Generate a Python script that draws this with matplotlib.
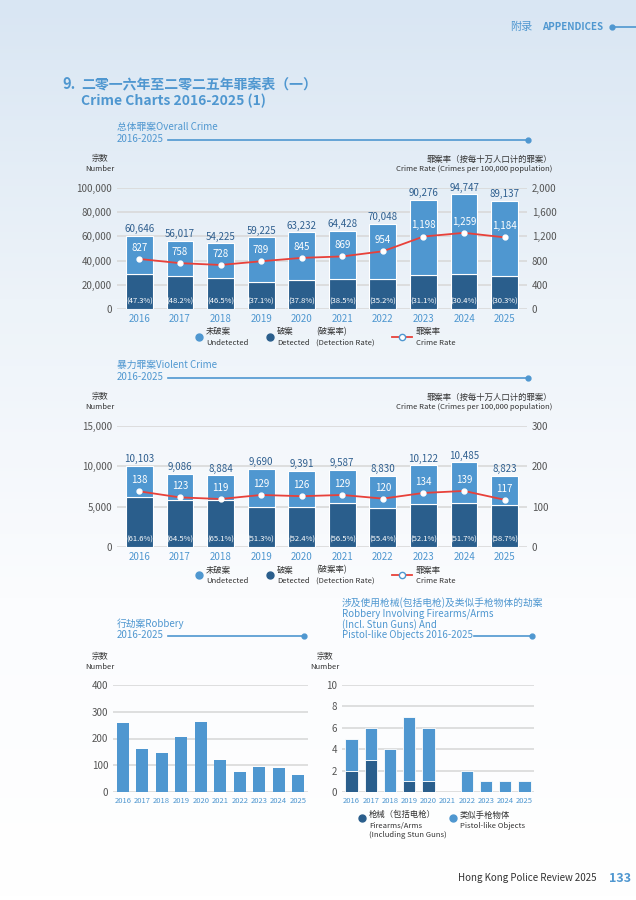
import numpy as np
import matplotlib.pyplot as plt
from matplotlib.colors import LinearSegmentedColormap

plt.rcParams['font.family'] = ['Noto Sans CJK SC', 'DejaVu Sans']

years = ['2016', '2017', '2018', '2019', '2020', '2021', '2022', '2023', '2024', '2025']

overall_total = [60646, 56017, 54225, 59225, 63232, 64428, 70048, 90276, 94747, 89137]
overall_detected = [28686, 27000, 25215, 21972, 23902, 24805, 24657, 28076, 28803, 27009]
overall_rate_pct = ['47.3', '48.2', '46.5', '37.1', '37.8', '38.5', '35.2', '31.1', '30.4', '30.3']
overall_crime_rate = [827, 758, 728, 789, 845, 869, 954, 1198, 1259, 1184]

violent_total = [10103, 9086, 8884, 9690, 9391, 9587, 8830, 10122, 10485, 8823]
violent_detected = [6223, 5860, 5783, 4971, 4921, 5417, 4892, 5274, 5421, 5179]
violent_rate_pct = ['61.6', '64.5', '65.1', '51.3', '52.4', '56.5', '55.4', '52.1', '51.7', '58.7']
violent_crime_rate = [138, 123, 119, 129, 126, 129, 120, 134, 139, 117]

robbery = [258, 160, 145, 207, 262, 120, 75, 95, 88, 64]

firearms = [2, 3, 0, 1, 1, 0, 0, 0, 0, 0]
pistol_like = [3, 3, 4, 6, 5, 0, 2, 1, 1, 1]

LIGHT = '#4f97d0'
DARK = '#2a5e8c'
TXT = '#2f5f8f'
YEAR_C = '#4f97d0'
GRID = '#d9d9d9'

W, H = 636, 900
fig = plt.figure(figsize=(6.36, 9.0), dpi=100)

# background gradient
bg = fig.add_axes([0, 0, 1, 1])
grad = np.linspace(0, 1, 256).reshape(-1, 1)
cm = LinearSegmentedColormap.from_list('bg', ['#d9e6f3', '#edf3f9', '#fbfcfe', '#ffffff'])
bg.imshow(grad, aspect='auto', cmap=cm, extent=[0, 1, 0, 1], origin='upper')
bg.set_xlim(0, 1); bg.set_ylim(0, 1)
bg.axis('off')


def fx(px):
    return px / W


def fy(py):
    return 1 - py / H


def ftext(px, py, s, **kw):
    fig.text(fx(px), fy(py), s, **kw)


def header_line(x0, x1, py):
    bg.plot([fx(x0), fx(x1)], [fy(py), fy(py)], color=LIGHT, lw=1.2)
    bg.plot([fx(x1)], [fy(py)], 'o', color=LIGHT, ms=3.5)


# page header
ftext(510, 27, '附录', fontsize=8, color=LIGHT, va='center')
ftext(542, 27, 'APPENDICES', fontsize=7, color=LIGHT, weight='bold', va='center')
bg.plot([fx(612), 1], [fy(27), fy(27)], color=LIGHT, lw=1.2)
bg.plot([fx(612)], [fy(27)], 'o', color=LIGHT, ms=3.5)

ftext(62, 84, '9.', fontsize=10.5, color=LIGHT, weight='bold', va='center')
ftext(81, 84, '二零一六年至二零二五年罪案表（一）', fontsize=10, color=LIGHT, weight='bold', va='center')
ftext(81, 101, 'Crime Charts 2016-2025 (1)', fontsize=10, color=LIGHT, weight='bold', va='center')

ftext(117, 127, '总体罪案Overall Crime', fontsize=7, color=LIGHT, va='center')
ftext(117, 139, '2016-2025', fontsize=7, color=LIGHT, va='center')
header_line(168, 528, 140)

ftext(117, 365, '暴力罪案Violent Crime', fontsize=7, color=LIGHT, va='center')
ftext(117, 377, '2016-2025', fontsize=7, color=LIGHT, va='center')
header_line(168, 528, 378)


def style_axes(ax):
    for s in ax.spines.values():
        s.set_visible(False)
    ax.set_facecolor('none')
    ax.yaxis.grid(True, color=GRID, lw=1.2)
    ax.set_axisbelow(True)
    ax.tick_params(length=0, labelsize=7, colors='#555555')


def stacked_chart(rect, total, detected, pct, rate, ymax, yticks, rmax, rticks):
    ax = fig.add_axes(rect)
    style_axes(ax)
    x = np.arange(len(years))
    undetected = [t - d for t, d in zip(total, detected)]
    ax.bar(x, detected, width=0.66, color=DARK, edgecolor='white', lw=0.8)
    ax.bar(x, undetected, bottom=detected, width=0.66, color=LIGHT, edgecolor='white', lw=0.8)
    ax.set_xlim(-0.55, 9.55)
    ax.set_ylim(0, ymax)
    ax.set_yticks(yticks)
    ax.set_yticklabels([f'{v:,}' for v in yticks])
    ax.set_xticks(x)
    ax.set_xticklabels(years, color=YEAR_C, fontsize=7)
    for i in x:
        ax.text(i, total[i] + ymax * 0.015, f'{total[i]:,}', ha='center', va='bottom', fontsize=7, color=TXT)
        ax.text(i, ymax * 0.06, f'({pct[i]}%)', ha='center', va='center', fontsize=5.5, color='white')
    ax2 = ax.twinx()
    for s in ax2.spines.values():
        s.set_visible(False)
    ax2.tick_params(length=0, labelsize=7, colors='#555555')
    ax2.set_ylim(0, rmax)
    ax2.set_yticks(rticks)
    ax2.set_yticklabels([f'{v:,}' for v in rticks])
    ax2.plot(x, rate, color='#e8413a', lw=1.3, marker='o', ms=3.5, mfc='white', mec='white')
    for i in x:
        ax2.text(i, rate[i] + rmax * 0.05, f'{rate[i]:,}', ha='center', va='bottom', fontsize=7, color='white')
    return ax


stacked_chart([fx(117), fy(309), fx(410), (309 - 188) / H],
              overall_total, overall_detected, overall_rate_pct, overall_crime_rate,
              100000, [0, 20000, 40000, 60000, 80000, 100000], 2000, [0, 400, 800, 1200, 1600, 2000])
stacked_chart([fx(117), fy(547), fx(410), (547 - 426) / H],
              violent_total, violent_detected, violent_rate_pct, violent_crime_rate,
              15000, [0, 5000, 10000, 15000], 300, [0, 100, 200, 300])

for top in (159, 397):
    ftext(100, top, '宗数', fontsize=6, color='#333333', ha='center', va='center')
    ftext(100, top + 10, 'Number', fontsize=5.5, color='#333333', ha='center', va='center')
    ftext(552, top, '罪案率（按每十万人口计的罪案）', fontsize=6, color='#333333', ha='right', va='center')
    ftext(552, top + 10, 'Crime Rate (Crimes per 100,000 population)', fontsize=5.5, color='#333333', ha='right', va='center')


def legend_row(py):
    bg.plot([fx(199)], [fy(py)], 'o', color=LIGHT, ms=5)
    ftext(206, py - 5, '未破案', fontsize=6, color='#333333', va='center')
    ftext(206, py + 6, 'Undetected', fontsize=5.5, color='#333333', va='center')
    bg.plot([fx(270)], [fy(py)], 'o', color=DARK, ms=5)
    ftext(277, py - 5, '破案', fontsize=6, color='#333333', va='center')
    ftext(277, py + 6, 'Detected', fontsize=5.5, color='#333333', va='center')
    ftext(316, py - 5, '(破案率)', fontsize=6, color='#333333', va='center')
    ftext(316, py + 6, '(Detection Rate)', fontsize=5.5, color='#333333', va='center')
    bg.plot([fx(392), fx(412)], [fy(py), fy(py)], color='#e8413a', lw=1.3)
    bg.plot([fx(402)], [fy(py)], 'o', mfc='white', mec=LIGHT, ms=4.5)
    ftext(416, py - 5, '罪案率', fontsize=6, color='#333333', va='center')
    ftext(416, py + 6, 'Crime Rate', fontsize=5.5, color='#333333', va='center')


legend_row(337)
legend_row(575)

# bottom charts
ftext(117, 624, '行劫案Robbery', fontsize=7, color=LIGHT, va='center')
ftext(117, 635, '2016-2025', fontsize=7, color=LIGHT, va='center')
header_line(168, 304, 636)

ftext(342, 603, '涉及使用枪械(包括电枪)及类似手枪物体的劫案', fontsize=7, color=LIGHT, va='center')
ftext(342, 614, 'Robbery Involving Firearms/Arms', fontsize=7, color=LIGHT, va='center')
ftext(342, 625, '(Incl. Stun Guns) And', fontsize=7, color=LIGHT, va='center')
ftext(342, 635, 'Pistol-like Objects 2016-2025', fontsize=7, color=LIGHT, va='center')
header_line(474, 532, 636)

for px in (100, 325):
    ftext(px, 657, '宗数', fontsize=6, color='#333333', ha='center', va='center')
    ftext(px, 667, 'Number', fontsize=5.5, color='#333333', ha='center', va='center')

ax3 = fig.add_axes([fx(113), fy(792), fx(195), (792 - 685) / H])
style_axes(ax3)
x = np.arange(len(years))
ax3.bar(x, robbery, width=0.6, color=LIGHT)
ax3.set_ylim(0, 400)
ax3.set_yticks([0, 100, 200, 300, 400])
ax3.set_xlim(-0.5, 9.5)
ax3.set_xticks(x)
ax3.set_xticklabels(years, color=YEAR_C, fontsize=5.5)

ax4 = fig.add_axes([fx(342), fy(792), fx(192), (792 - 685) / H])
style_axes(ax4)
ax4.bar(x, firearms, width=0.65, color=DARK, edgecolor='white', lw=0.6)
ax4.bar(x, pistol_like, bottom=firearms, width=0.65, color=LIGHT, edgecolor='white', lw=0.6)
ax4.set_ylim(0, 10)
ax4.set_yticks([0, 2, 4, 6, 8, 10])
ax4.set_xlim(-0.5, 9.5)
ax4.set_xticks(x)
ax4.set_xticklabels(years, color=YEAR_C, fontsize=5.5)

bg.plot([fx(362)], [fy(818)], 'o', color=DARK, ms=5)
ftext(369, 815, '枪械（包括电枪）', fontsize=6, color='#333333', va='center')
ftext(369, 826, 'Firearms/Arms', fontsize=5.5, color='#333333', va='center')
ftext(369, 835, '(Including Stun Guns)', fontsize=5.5, color='#333333', va='center')
bg.plot([fx(453)], [fy(818)], 'o', color=LIGHT, ms=5)
ftext(460, 815, '类似手枪物体', fontsize=6, color='#333333', va='center')
ftext(460, 826, 'Pistol-like Objects', fontsize=5.5, color='#333333', va='center')

ftext(597, 878, 'Hong Kong Police Review 2025', fontsize=7, color='#333333', ha='right', va='center')
ftext(609, 878, '133', fontsize=9, color=LIGHT, weight='bold', va='center')

fig.savefig('out.png', dpi=100)
